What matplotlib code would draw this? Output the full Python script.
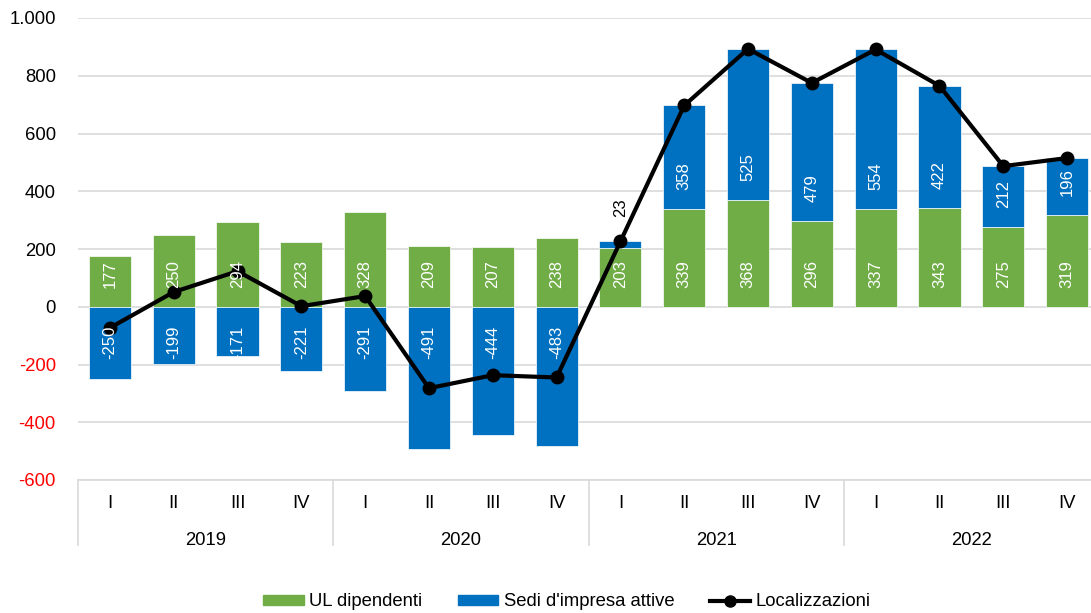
import matplotlib
matplotlib.use("Agg")
import matplotlib.pyplot as plt
import matplotlib.transforms as mtransforms
from matplotlib.lines import Line2D
from matplotlib.patches import Patch
import numpy as np

plt.rcParams['font.family'] = ['Liberation Sans', 'DejaVu Sans']

years = ["2019", "2020", "2021", "2022"]
quarters = ["I", "II", "III", "IV"]
ul_dipendenti = [177, 250, 294, 223, 328, 209, 207, 238, 203, 339, 368, 296, 337, 343, 275, 319]
sedi_impresa = [-250, -199, -171, -221, -291, -491, -444, -483, 23, 358, 525, 479, 554, 422, 212, 196]

ul = np.array(ul_dipendenti)
sedi = np.array(sedi_impresa)
localizzazioni = ul + sedi

GREEN = "#70AD47"
BLUE = "#0070C0"
GRID = "#D9D9D9"
FS_AX = 13.3
FS_LAB = 12

fig = plt.figure(figsize=(10.91, 6.13), dpi=100)
ax = fig.add_axes([78 / 1091, 1 - 480 / 613, 1021 / 1091, 462 / 613])

x = np.arange(len(ul))
w = 0.66
ax.bar(x, ul, w, color=GREEN, edgecolor="white", linewidth=0.5, zorder=2)
# blue sits on top of green when positive, goes below zero when negative
bottom = np.where(sedi > 0, ul, 0)
ax.bar(x, sedi, w, bottom=bottom, color=BLUE, edgecolor="white", linewidth=0.5, zorder=2)
ax.plot(x, localizzazioni, color="black", lw=3, marker="o", ms=9, zorder=3)


def base_label(xi, base, val, color="white", off=19):
    # label sits near the segment base, like Excel "inside base"
    up = val > 0
    ax.annotate(f"{val}", (xi, base), xytext=(0, off if up else -off), textcoords="offset pixels",
                rotation=90, ha="center", va="bottom" if up else "top",
                color=color, fontsize=FS_LAB, zorder=4)


for i in range(len(x)):
    base_label(x[i], 0, ul[i])
    if sedi[i] < 0:
        base_label(x[i], 0, sedi[i])
    elif sedi[i] < 60:
        # too small to fit: put it above the bar
        ax.annotate(f"{sedi[i]}", (x[i], ul[i] + sedi[i]), xytext=(0, 24), textcoords="offset pixels",
                    rotation=90, ha="center", va="bottom", color="black", fontsize=FS_LAB, zorder=4)
    else:
        base_label(x[i], ul[i], sedi[i])

ax.set_xlim(-0.5, len(x) - 0.5)
ax.set_ylim(-600, 1000)
yt = np.arange(-600, 1001, 200)
ax.set_yticks(yt)
ax.set_yticklabels([f"{v:,}".replace(",", ".") for v in yt], fontsize=FS_AX)
for lab, v in zip(ax.get_yticklabels(), yt):
    lab.set_color("red" if v < 0 else "black")
ax.tick_params(axis="y", length=0, pad=16)
ax.grid(axis="y", color=GRID, lw=1.2, zorder=0)
ax.set_axisbelow(True)
for s in ["top", "right", "left"]:
    ax.spines[s].set_visible(False)
ax.spines["bottom"].set_color(GRID)
ax.spines["bottom"].set_linewidth(1.2)

# two-level category axis
ax.set_xticks([])
trans = mtransforms.blended_transform_factory(ax.transData, ax.transAxes)
px = 1 / 462
for i in range(len(x)):
    ax.text(x[i], -28 * px, quarters[i % 4], transform=trans, ha="center", va="baseline", fontsize=FS_AX)
for j, yr in enumerate(years):
    ax.text(j * 4 + 1.5, -65 * px, yr, transform=trans, ha="center", va="baseline", fontsize=FS_AX)
for b in range(len(years) + 1):
    ax.add_line(Line2D([b * 4 - 0.5, b * 4 - 0.5], [0, -65 * px], transform=trans,
                       color=GRID, lw=1.2, clip_on=False))

handles = [Patch(color=GREEN, label="UL dipendenti"),
           Patch(color=BLUE, label="Sedi d'impresa attive"),
           Line2D([], [], color="black", lw=3, marker="o", ms=8, label="Localizzazioni")]
fig.legend(handles=handles, loc="center", bbox_to_anchor=(567 / 1091, 1 - 602 / 613), ncol=3,
           frameon=False, fontsize=FS_AX, handlelength=2.2, handleheight=0.5, columnspacing=1.9,
           handletextpad=0.3, borderpad=0)

fig.savefig("out.png", dpi=100)
